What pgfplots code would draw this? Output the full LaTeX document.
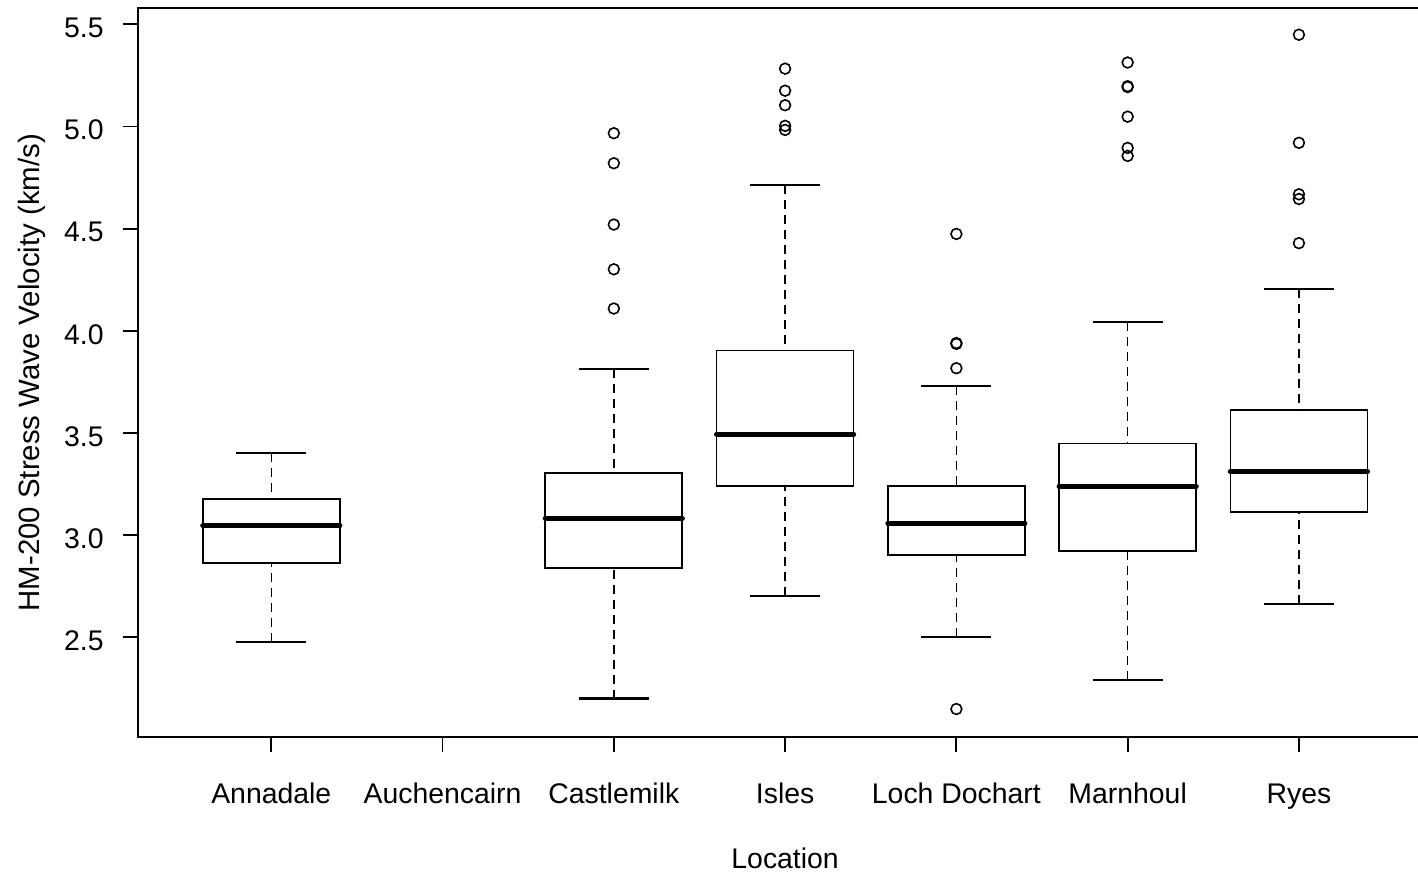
\documentclass[border=0pt]{standalone}
\usepackage{fontspec}
\setmainfont{Liberation Sans}
\usepackage{pgfplots}
\pgfplotsset{compat=1.18}
\usepgfplotslibrary{statistics}
\begin{document}
\begin{tikzpicture}[font=\fontsize{14.2}{17}\selectfont]
\path[use as bounding box] (-68.85pt,-67.85pt) rectangle (640.15pt,368.65pt);
\clip (-68.85pt,-67.85pt) rectangle (640.15pt,368.65pt);
\begin{axis}[
  at={(0pt,0pt)}, anchor=south west, scale only axis,
  width=647.4pt, height=364.65pt,
  xmin=0.22, xmax=7.78, ymin=2.0106, ymax=5.5798,
  axis line style={line width=0.9pt},
  tick align=outside, tick pos=left,
  major tick length=7.5pt,
  every tick/.style={black, line width=0.9pt},
  xtick={1,2,3,4,5,6,7},
  xticklabels={Annadale,Auchencairn,Castlemilk,Isles,Loch Dochart,Marnhoul,Ryes},
  xticklabel style={anchor=base},
  xticklabel shift=25.5pt,
  ytick={2.5,3,3.5,4,4.5,5,5.5},
  /pgf/number format/assume math mode=true,
  yticklabel style={inner sep=0pt, anchor=east, yshift=-1.8pt, /pgf/number format/fixed, /pgf/number format/fixed zerofill, /pgf/number format/precision=1},
  yticklabel shift=9.35pt,
  every axis y label/.style={at={(axis description cs:-0.0816,0.5)}, rotate=90, anchor=center, font=\fontsize{14.7}{17}\selectfont},
  every axis x label/.style={at={(axis description cs:0.5,0)}, anchor=center, yshift=-60.35pt},
  xlabel={Location},
  ylabel={HM-200 Stress Wave Velocity (km/s)},
  boxplot/draw direction=y,
  boxplot/box extend=0.8,
  boxplot/whisker extend=0.41,
  boxplot/every box/.style={line width=0.85pt},
  boxplot/every median/.style={line width=2.6pt, line cap=round},
  boxplot/draw/lower whisker/.code={%
    \draw[line width=0.75pt, dash pattern=on 4.5pt off 3pt] (boxplot cs:\pgfplotsboxplotvalue{lower whisker}) -- (boxplot cs:\pgfplotsboxplotvalue{lower quartile});
    \draw[line width=1.15pt] (boxplot whisker cs:\pgfplotsboxplotvalue{lower whisker},0) -- (boxplot whisker cs:\pgfplotsboxplotvalue{lower whisker},1);
  },
  boxplot/draw/upper whisker/.code={%
    \draw[line width=0.75pt, dash pattern=on 4.5pt off 3pt] (boxplot cs:\pgfplotsboxplotvalue{upper whisker}) -- (boxplot cs:\pgfplotsboxplotvalue{upper quartile});
    \draw[line width=1.15pt] (boxplot whisker cs:\pgfplotsboxplotvalue{upper whisker},0) -- (boxplot whisker cs:\pgfplotsboxplotvalue{upper whisker},1);
  },
  every axis plot/.append style={black, mark=o, mark size=2.7pt, mark options={line width=0.8pt, solid}},
]
% Annadale
\addplot[boxplot prepared={draw position=1, lower whisker=2.476, lower quartile=2.865, median=3.047, upper quartile=3.176, upper whisker=3.401}] coordinates {};
% Castlemilk
\addplot[boxplot prepared={draw position=3, lower whisker=2.200, lower quartile=2.838, median=3.083, upper quartile=3.303, upper whisker=3.812}]
  coordinates {(0,4.109) (0,4.301) (0,4.520) (0,4.820) (0,4.967)};
% Isles
\addplot[boxplot prepared={draw position=4, lower whisker=2.701, lower quartile=3.241, median=3.494, upper quartile=3.903, upper whisker=4.715}]
  coordinates {(0,4.983) (0,5.003) (0,5.104) (0,5.175) (0,5.283)};
% Loch Dochart
\addplot[boxplot prepared={draw position=5, lower whisker=2.502, lower quartile=2.902, median=3.058, upper quartile=3.240, upper whisker=3.730}]
  coordinates {(0,2.149) (0,3.817) (0,3.936) (0,3.940) (0,4.474)};
% Marnhoul
\addplot[boxplot prepared={draw position=6, lower whisker=2.290, lower quartile=2.921, median=3.239, upper quartile=3.448, upper whisker=4.042}]
  coordinates {(0,4.856) (0,4.895) (0,5.048) (0,5.193) (0,5.197) (0,5.313)};
% Ryes
\addplot[boxplot prepared={draw position=7, lower whisker=2.663, lower quartile=3.112, median=3.311, upper quartile=3.611, upper whisker=4.205}]
  coordinates {(0,4.429) (0,4.645) (0,4.668) (0,4.920) (0,5.449)};
\end{axis}
\end{tikzpicture}
\end{document}
